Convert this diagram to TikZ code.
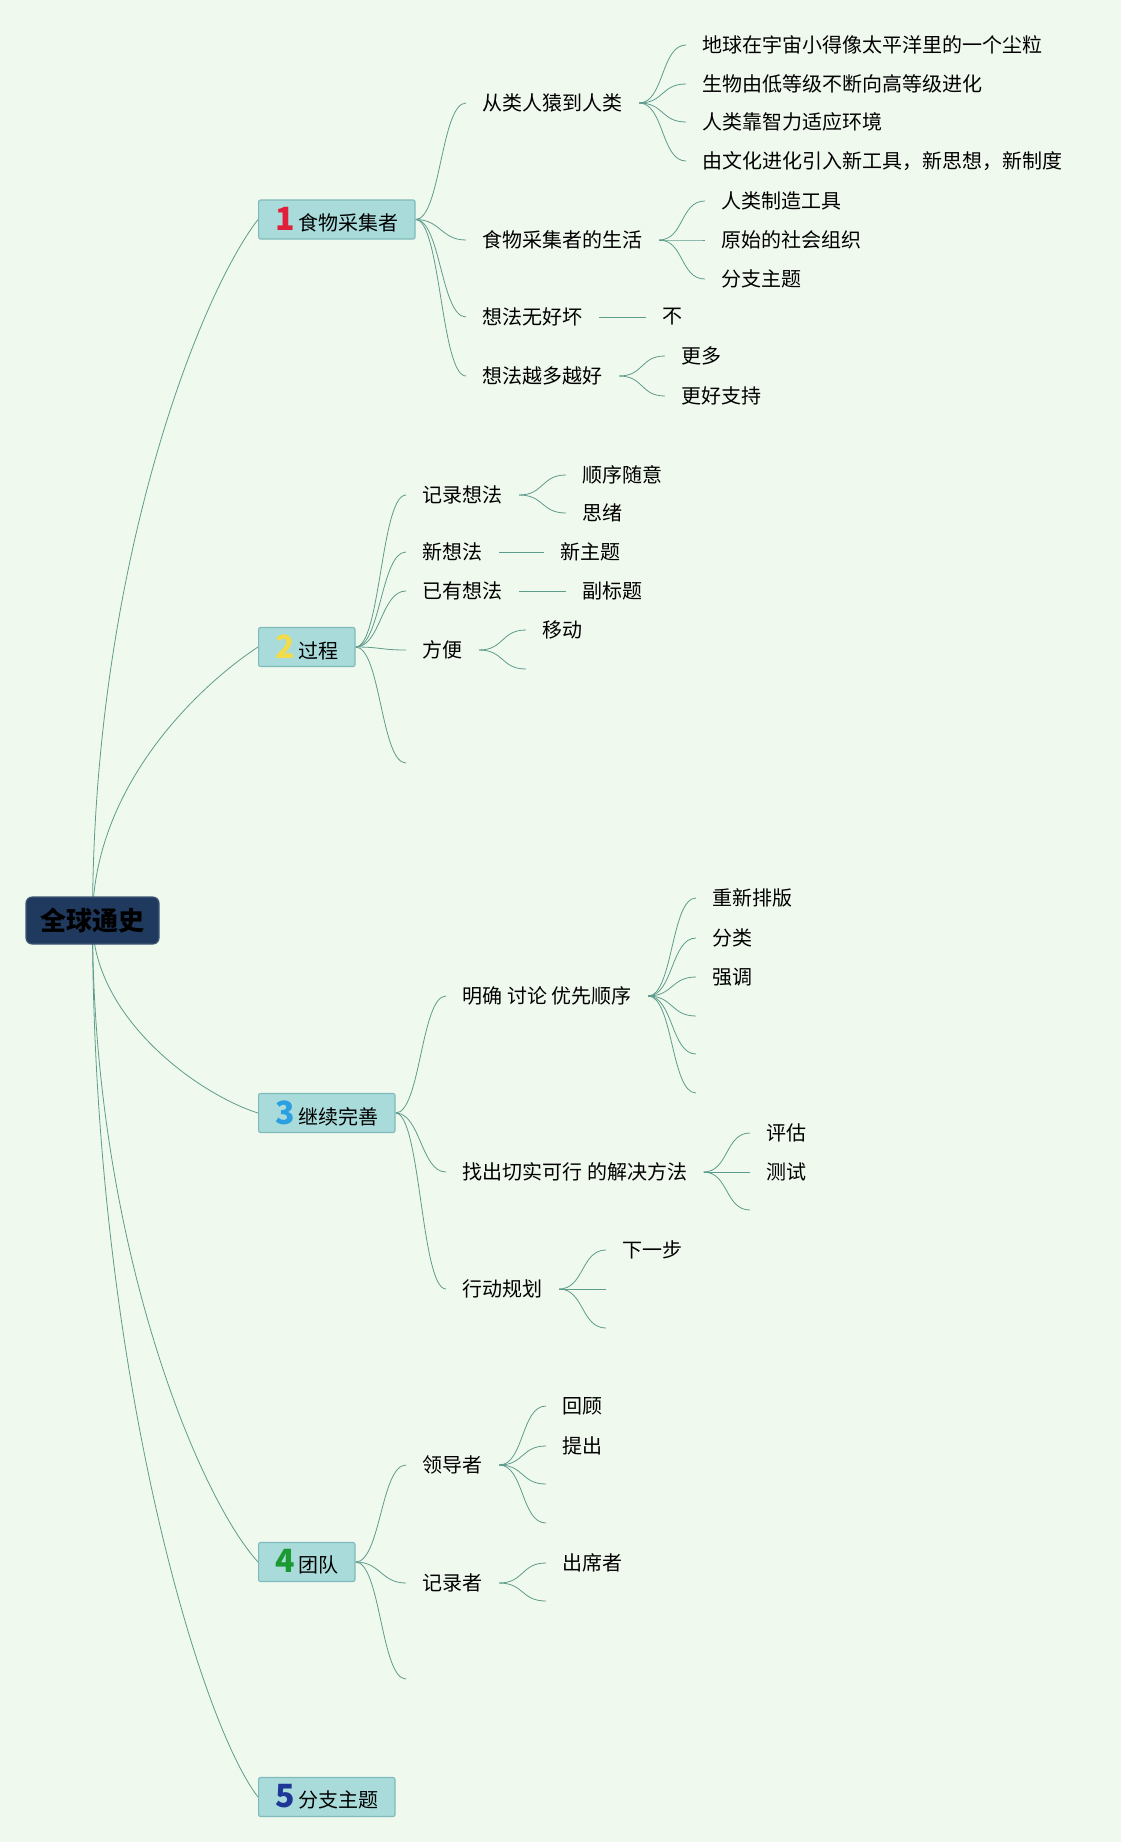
\documentclass[tikz,border=0pt]{standalone}
\usepackage{fontspec}
\setmainfont{Noto Sans CJK SC}
\usetikzlibrary{backgrounds}

\definecolor{paper}{HTML}{F0F9EE}
\definecolor{wire}{HTML}{5E9C8C}
\definecolor{boxfill}{HTML}{A9DBDB}
\definecolor{boxline}{HTML}{80BBBB}
\definecolor{navy}{HTML}{1F3A5E}
\definecolor{numone}{HTML}{E0203A}
\definecolor{numtwo}{HTML}{F2DC4C}
\definecolor{numthree}{HTML}{2B9FE0}
\definecolor{numfour}{HTML}{1A9A30}
\definecolor{numfive}{HTML}{1E3796}

\newcommand{\topicnum}[2]{\textcolor{#1}{\fontsize{16}{16}\selectfont\bfseries #2}\hspace{1.5pt}}

\begin{document}
\begin{tikzpicture}[
    x=0.5pt, y=-0.5pt,
    line width=0.55pt,
    font=\fontsize{10}{12}\selectfont,
    central/.style={fill=navy, draw=navy!85!white, rounded corners=3pt,
        minimum width=66.5pt, minimum height=23.5pt,
        font=\fontsize{13}{15}\selectfont\bfseries},
    topic/.style={anchor=west, fill=boxfill, draw=boxline, rounded corners=1pt,
        minimum height=19.5pt, inner xsep=8.5pt, inner ysep=0pt},
    leaf/.style={anchor=west, inner xsep=8pt, inner ysep=2pt},
    subline/.style={wire, to path={.. controls +(25,0) and +(-25,0) .. (\tikztotarget)}}
]
    \useasboundingbox (0,0) rectangle (1121,1842);

    % Central topic
    \node[central] (root) at (92.5,920.5) {全球通史};

    % Main topics
    \node[topic] (t1) at (258,219.5) {\topicnum{numone}{1}食物采集者};
    \node[topic] (t2) at (258,647) {\topicnum{numtwo}{2}过程};
    \node[topic] (t3) at (258,1113) {\topicnum{numthree}{3}继续完善};
    \node[topic] (t4) at (258,1562) {\topicnum{numfour}{4}团队};
    \node[topic] (t5) at (258,1797) {\topicnum{numfive}{5}分支主题};

    % Topic 1
    \node[leaf] (a1) at (466,103) {从类人猿到人类};
    \node[leaf] (a2) at (466,240) {食物采集者的生活};
    \node[leaf] (a3) at (466,317) {想法无好坏};
    \node[leaf] (a4) at (466,376) {想法越多越好};
    \node[leaf] (a11) at (686,45) {地球在宇宙小得像太平洋里的一个尘粒};
    \node[leaf] (a12) at (686,84) {生物由低等级不断向高等级进化};
    \node[leaf] (a13) at (686,122) {人类靠智力适应环境};
    \node[leaf] (a14) at (686,161) {由文化进化引入新工具，新思想，新制度};
    \node[leaf] (a21) at (705,201) {人类制造工具};
    \node[leaf] (a22) at (705,240) {原始的社会组织};
    \node[leaf] (a23) at (705,279) {分支主题};
    \node[leaf] (a31) at (646,317) {不};
    \node[leaf] (a41) at (665,356) {更多};
    \node[leaf] (a42) at (665,396) {更好支持};

    % Topic 2
    \node[leaf] (b1) at (406,495) {记录想法};
    \node[leaf] (b2) at (406,552) {新想法};
    \node[leaf] (b3) at (406,591) {已有想法};
    \node[leaf] (b4) at (406,650) {方便};
    \coordinate (b5) at (406,763);
    \node[leaf] (b11) at (566,475) {顺序随意};
    \node[leaf] (b12) at (566,513) {思绪};
    \node[leaf] (b21) at (544,552) {新主题};
    \node[leaf] (b31) at (566,591) {副标题};
    \node[leaf] (b41) at (526,630) {移动};
    \coordinate (b42) at (526,669);

    % Topic 3
    \node[leaf] (c1) at (446,996) {明确 讨论 优先顺序};
    \node[leaf] (c2) at (446,1172) {找出切实可行 的解决方法};
    \node[leaf] (c3) at (446,1289) {行动规划};
    \node[leaf] (c11) at (696,898) {重新排版};
    \node[leaf] (c12) at (696,938) {分类};
    \node[leaf] (c13) at (696,977) {强调};
    \coordinate (c14) at (696,1016);
    \coordinate (c15) at (696,1054);
    \coordinate (c16) at (696,1093);
    \node[leaf] (c21) at (750,1133) {评估};
    \node[leaf] (c22) at (750,1172) {测试};
    \coordinate (c23) at (750,1210);
    \node[leaf] (c31) at (606,1250) {下一步};
    \coordinate (c32) at (606,1289);
    \coordinate (c33) at (606,1328);

    % Topic 4
    \node[leaf] (d1) at (406,1465) {领导者};
    \node[leaf] (d2) at (406,1583) {记录者};
    \coordinate (d3) at (406,1679);
    \node[leaf] (d11) at (546,1406) {回顾};
    \node[leaf] (d12) at (546,1446) {提出};
    \coordinate (d13) at (546,1484);
    \coordinate (d14) at (546,1523);
    \node[leaf] (d21) at (546,1563) {出席者};
    \coordinate (d22) at (546,1601);

    \begin{scope}[on background layer]
        \fill[paper] (0,0) rectangle (1121,1842);

        % Central topic to main topics
        \draw[wire] (root.center) .. controls +(0,-350) and +(-60,78) .. (t1.west);
        \draw[wire] (root.center) .. controls +(0,-137) and +(-55,36) .. (t2.west);
        \draw[wire] (root.center) .. controls +(0,97) and +(-60,-19) .. (t3.west);
        \draw[wire] (root.center) .. controls +(0,321) and +(-60,-66) .. (t4.west);
        \draw[wire] (root.center) .. controls +(0,438) and +(-60,-78) .. (t5.west);

        % Topic 1 branches
        \foreach \k in {a1.west,a2.west,a3.west,a4.west}
            \draw[subline] (t1.east) to (\k);
        \foreach \k in {a11,a12,a13,a14}
            \draw[subline] (a1.east) to (\k.west);
        \foreach \k in {a21,a22,a23}
            \draw[subline] (a2.east) to (\k.west);
        \draw[wire] (a3.east) -- (a31.west);
        \foreach \k in {a41,a42}
            \draw[subline] (a4.east) to (\k.west);

        % Topic 2 branches
        \foreach \k in {b1.west,b2.west,b3.west,b4.west,b5}
            \draw[subline] (t2.east) to (\k);
        \foreach \k in {b11,b12}
            \draw[subline] (b1.east) to (\k.west);
        \draw[wire] (b2.east) -- (b21.west);
        \draw[wire] (b3.east) -- (b31.west);
        \foreach \k in {b41.west,b42}
            \draw[subline] (b4.east) to (\k);

        % Topic 3 branches
        \foreach \k in {c1,c2,c3}
            \draw[subline] (t3.east) to (\k.west);
        \foreach \k in {c11.west,c12.west,c13.west,c14,c15,c16}
            \draw[subline] (c1.east) to (\k);
        \foreach \k in {c21.west,c22.west,c23}
            \draw[subline] (c2.east) to (\k);
        \foreach \k in {c31.west,c32,c33}
            \draw[subline] (c3.east) to (\k);

        % Topic 4 branches
        \foreach \k in {d1.west,d2.west,d3}
            \draw[subline] (t4.east) to (\k);
        \foreach \k in {d11.west,d12.west,d13,d14}
            \draw[subline] (d1.east) to (\k);
        \foreach \k in {d21.west,d22}
            \draw[subline] (d2.east) to (\k);
    \end{scope}

\end{tikzpicture}
\end{document}
